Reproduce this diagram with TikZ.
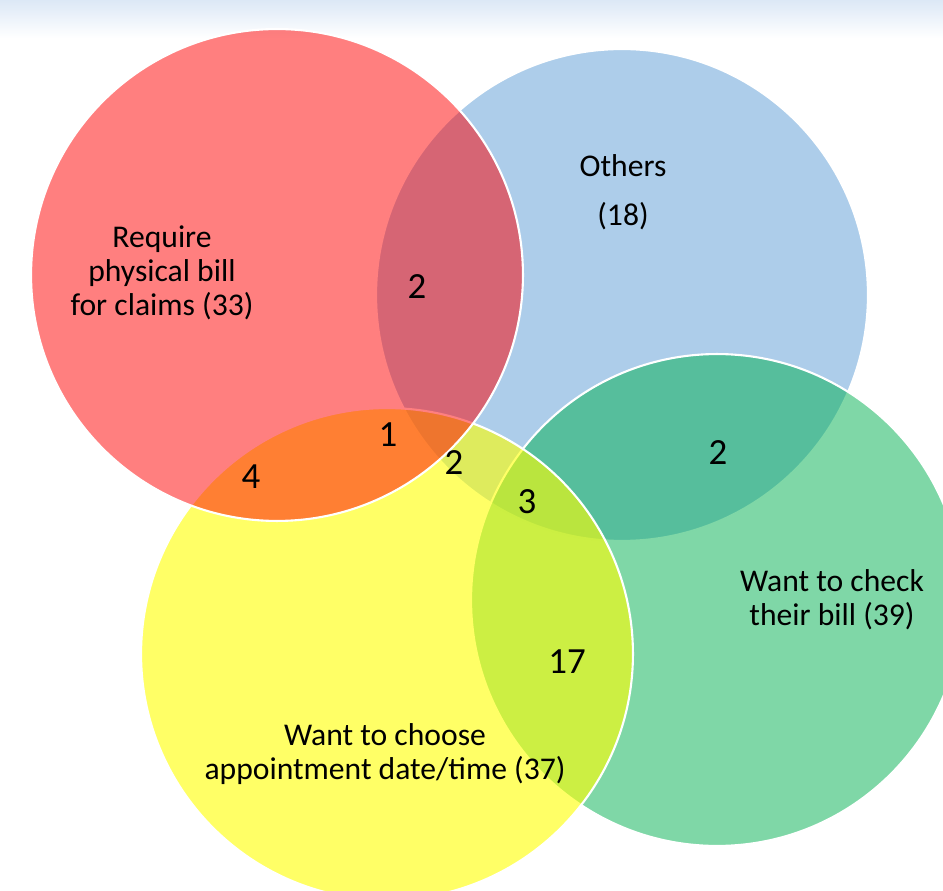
\documentclass[tikz,border=0pt]{standalone}
\usepackage{fontspec}
\setmainfont{Carlito}

\definecolor{headblue}{RGB}{220,232,246}
\definecolor{setred}{RGB}{255,0,0}
\definecolor{setblue}{RGB}{91,155,213}
\definecolor{setgreen}{RGB}{0,176,80}
\definecolor{setyellow}{RGB}{255,255,0}

\tikzset{
	set/.style = {circle, draw = white, line width = 1.2pt, fill opacity = 0.5, minimum size = 9.84 cm, inner sep = 0 pt},
	count/.style = {inner sep = 0 pt, font = \fontsize{21}{24}\selectfont}
}

\begin{document}
\begin{tikzpicture}[x = 0.02 cm, y = -0.02 cm, font = \fontsize{18}{19.4}\selectfont]

	% Page frame
	
	\useasboundingbox (0, 0) rectangle (943, 891);
	\clip (0, 0) rectangle (943, 891);
	
	% Faded strip along the top
	
	\shade [top color = headblue, bottom color = white] (0, 0) rectangle (943, 38);
	
	% Set circles, back to front
	
	\foreach \name/\col/\op/\cx/\cy in {blue/setblue/0.5/622/295, green/setgreen/0.5/717/600, yellow/setyellow/0.6/387/654, red/setred/0.5/277/275}
	{
		\node [set, fill = \col, fill opacity = \op] (\name) at (\cx, \cy) {};
	}
	
	% Set labels
	
	\node [align = center] (claims) at (162, 273) {Require\\physical bill\\for claims (33)};
	\node [align = center] (others) at (623, 192) {Others\\[8.5pt](18)};
	\node [align = center] (check) at (832, 600) {Want to check\\their bill (39)};
	\node [align = center] (choose) at (385, 754) {Want to choose\\appointment date/time (37)};
	
	% Counts in the overlaps
	
	\foreach \name/\x/\y/\num in {rb/417/287/2, ry/388/435/1, rya/251/477/4, yb/454/463/2, ybg/527/502/3, gb/718/453/2, yg/567/662/17}
	{
		\node [count] (\name) at (\x, \y) {\num};
	}

\end{tikzpicture}
\end{document}
